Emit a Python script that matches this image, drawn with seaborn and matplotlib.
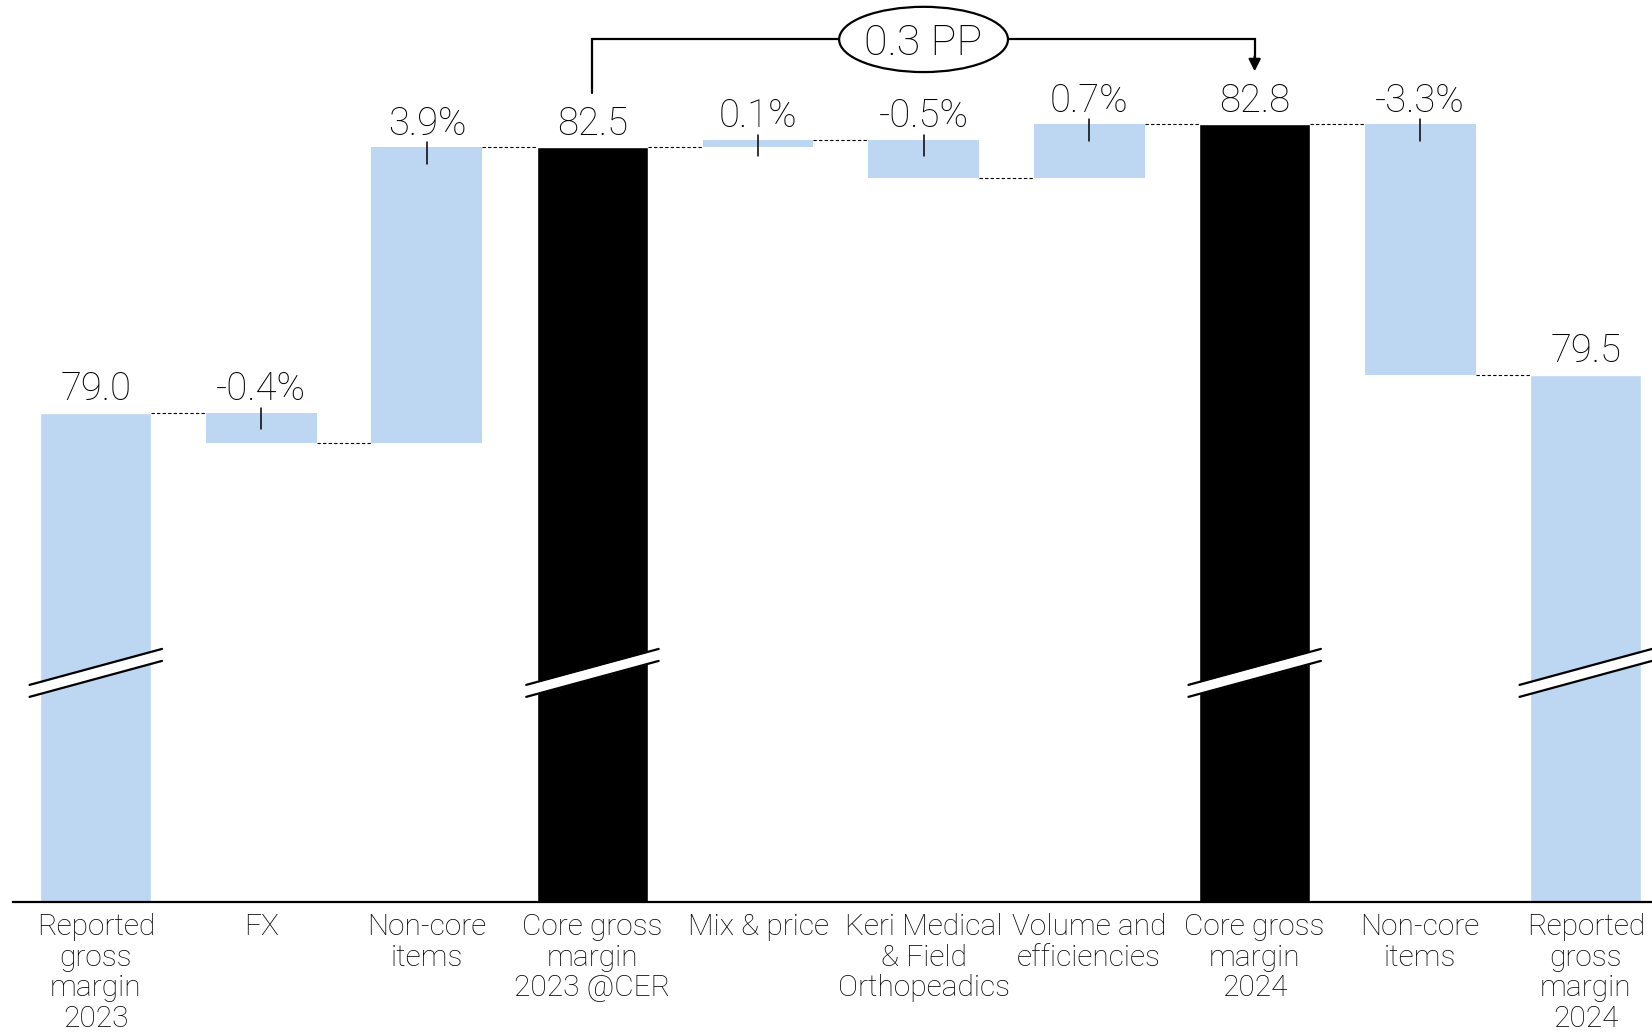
import numpy as np
import pandas as pd
import seaborn as sns
import matplotlib.pyplot as plt
from matplotlib.patches import Ellipse

# chart data
labels = ["Reported\ngross\nmargin\n2023", "FX", "Non-core\nitems", "Core gross\nmargin\n2023 @CER",
          "Mix & price", "Keri Medical\n& Field\nOrthopeadics", "Volume and\nefficiencies",
          "Core gross\nmargin\n2024", "Non-core\nitems", "Reported\ngross\nmargin\n2024"]
kinds = ["reported", "delta", "delta", "core", "delta", "delta", "delta", "core", "delta", "reported"]
values = [79.0, -0.4, 3.9, 82.5, 0.1, -0.5, 0.7, 82.8, -3.3, 79.5]
bracket_text = "0.3 PP"

blue = "#BDD7F2"
sns.set_theme(style="white")
plt.rcParams["font.family"] = ["Roboto", "DejaVu Sans"]
plt.rcParams["text.color"] = "black"
plt.rcParams["xtick.color"] = "black"

fig = plt.figure(figsize=(16.52, 10.34), dpi=100)
ax = fig.add_axes([13 / 1652, 132 / 1034, 1 - 13 / 1652, 1 - 132 / 1034])

keys = [str(i) for i in range(len(labels))]
df = pd.DataFrame({"key": keys, "kind": kinds, "value": values})
tot = df[df.kind != "delta"]

# total bars (run up from below the cut axis)
sns.barplot(data=tot, x="key", y="value", hue="kind", order=keys,
            palette={"reported": blue, "core": "black"}, width=0.67,
            saturation=1, dodge=False, legend=False, ax=ax)

# running levels
starts, ends = [], []
level = 0.0
for k, v in zip(kinds, values):
    if k == "delta":
        starts.append(level)
        level = level + v
    else:
        starts.append(v)
        level = v
    ends.append(level)

ymin, ymax = 72.55, 84.44
w = 0.67
for i, (k, v) in enumerate(zip(kinds, values)):
    if k == "delta":
        ax.bar(i, v, bottom=starts[i], width=w, color=blue, linewidth=0, zorder=2)
        top = max(starts[i], ends[i])
        ax.plot([i, i], [top + 0.066, top - 0.22], color="black", lw=1.1, zorder=3)
        txt = f"{v:.1f}%"
    else:
        top = v
        txt = f"{v:.1f}"
    ax.annotate(txt, (i, top), xytext=(0, 9), textcoords="offset points",
                ha="center", va="baseline", fontsize=27.5, fontweight="light")

# dashed connectors
for i in range(len(values) - 1):
    ax.plot([i + w / 2, i + 1 - w / 2], [ends[i], ends[i]], color="black",
            lw=0.8, ls=(0, (3, 2)), zorder=3)

# axis break marks on total bars
yb, rise, gap, hw = 75.57, 0.474, 0.158, 0.40
for i, k in enumerate(kinds):
    if k == "delta":
        continue
    xs = np.array([i - hw, i + hw])
    y1 = yb + np.array([-rise / 2, rise / 2]) + gap / 2
    y2 = y1 - gap
    ax.fill_between(xs, y2, y1, color="white", zorder=4, lw=0, clip_on=False)
    ax.plot(xs, y1, color="black", lw=1.6, zorder=5, clip_on=False)
    ax.plot(xs, y2, color="black", lw=1.6, zorder=5, clip_on=False)

# bracket between the two core margins
yl = 83.92
ax.plot([3, 3, 7, 7], [83.22, yl, yl, 83.62], color="black", lw=1.6, zorder=3,
        clip_on=False, solid_joinstyle="miter")
ax.annotate("", xy=(7, 83.50), xytext=(7, 83.70),
            arrowprops=dict(arrowstyle="-|>,head_length=0.6,head_width=0.3",
                            color="black", lw=1.6, shrinkA=0, shrinkB=0))
ax.add_patch(Ellipse((5, yl), 1.02, 0.86, facecolor="white", edgecolor="black",
                     lw=1.6, zorder=4, clip_on=False))
ax.text(5, yl, bracket_text, ha="center", va="center_baseline", fontsize=31,
        fontweight="light", zorder=5)

ax.set_xlim(-0.5, 9.4)
ax.set_ylim(ymin, ymax)
ax.set_xticks(range(len(labels)))
ax.set_xticklabels(labels, fontsize=21.5, fontweight="light", linespacing=1.12)
ax.tick_params(axis="x", length=0, pad=8)
ax.set_yticks([])
ax.set_xlabel("")
ax.set_ylabel("")
for s in ["top", "right", "left"]:
    ax.spines[s].set_visible(False)
ax.spines["bottom"].set_color("black")
ax.spines["bottom"].set_linewidth(1.6)
ax.spines["bottom"].set_zorder(6)

fig.savefig("out.png", dpi=100)
